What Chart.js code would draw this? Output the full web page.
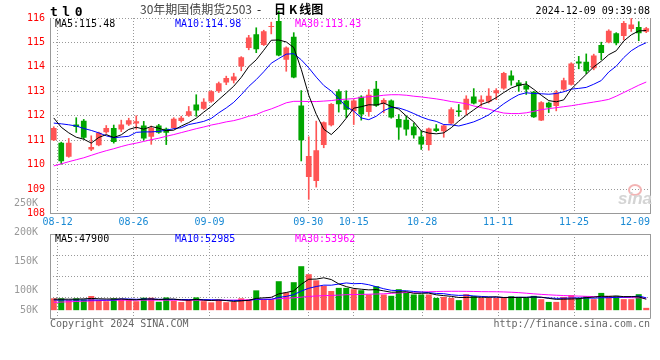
<!DOCTYPE html>
<html>
<head>
<meta charset="utf-8">
<script src="https://cdn.jsdelivr.net/npm/chart.js@4.4.1/dist/chart.umd.min.js"></script>
<style>
html, body { margin: 0; padding: 0; background: #fff; overflow: hidden; }
#wrap { position: relative; width: 660px; height: 360px; font-family: 'DejaVu Sans Mono', monospace; font-size: 10px; }
#wrap canvas { position: absolute; left: 0; top: 0; }
.t { position: absolute; white-space: pre; line-height: 12px; }
.cjk { font-family: 'Noto Sans CJK SC', sans-serif; font-size: 12px; line-height: 14px; top: 2px; }
</style>
</head>
<body>
<div id="wrap">
  <canvas id="price" width="660" height="360"></canvas>
  <canvas id="vol" width="660" height="360"></canvas>

  <div class="t" style="left:50px;top:4px;font-size:13px;line-height:15px;font-weight:bold;letter-spacing:4.5px;">tl0</div>
  <div class="t cjk" style="left:140px;color:#444;">30年期国债期货2503</div>
  <div class="t cjk" style="left:257px;color:#000;">-</div>
  <div class="t cjk" style="left:274px;color:#000;font-weight:bold;">日<span style="margin:0 2px 0 3px">K</span>线图</div>
  <div class="t" style="right:10px;top:5px;color:#000;">2024-12-09 09:39:08</div>

  <div class="t" style="left:55px;top:18px;color:#000;">MA5:115.48</div>
  <div class="t" style="left:175px;top:18px;color:#0000ff;">MA10:114.98</div>
  <div class="t" style="left:295px;top:18px;color:#ff00ff;">MA30:113.43</div>

  <div class="t" style="left:55px;top:233px;color:#000;">MA5:47900</div>
  <div class="t" style="left:175px;top:233px;color:#0000ff;">MA10:52985</div>
  <div class="t" style="left:295px;top:233px;color:#ff00ff;">MA30:53962</div>

  <div class="t" style="left:50px;top:318px;color:#666;">Copyright 2024 SINA.COM</div>
  <div class="t" style="right:10px;top:318px;color:#666;">http://finance.sina.com.cn</div>

  <div style="position:absolute;left:628px;top:184px;width:10px;height:8px;border:2px solid #f3b4b4;border-radius:50%;"></div>
  <div class="t" style="left:618px;top:190px;font-family:'Liberation Sans',sans-serif;font-size:17px;line-height:18px;font-weight:bold;font-style:italic;color:#d4d4d4;">sina</div>
</div>

<script>
// trading days shown (first one is 08-09, partly hidden behind the axis)
const CATS = [
  '08-09','08-12','08-13','08-14','08-15','08-16','08-19','08-20','08-21','08-22',
  '08-23','08-26','08-27','08-28','08-29','08-30','09-02','09-03','09-04','09-05',
  '09-06','09-09','09-10','09-11','09-12','09-13','09-18','09-19','09-20','09-23',
  '09-24','09-25','09-26','09-27','09-30','10-08','10-09','10-10','10-11','10-14',
  '10-15','10-16','10-17','10-18','10-21','10-22','10-23','10-24','10-25','10-28',
  '10-29','10-30','10-31','11-01','11-04','11-05','11-06','11-07','11-08','11-11',
  '11-12','11-13','11-14','11-15','11-18','11-19','11-20','11-21','11-22','11-25',
  '11-26','11-27','11-28','11-29','12-02','12-03','12-04','12-05','12-06','12-09'
];
const DATE_TICKS = ['08-12','08-26','09-09','09-30','10-15','10-28','11-11','11-25','12-09'];

const OPEN = [
  111.00,110.90,110.32,111.64,111.80,110.62,110.79,111.32,111.50,111.44,
  111.64,111.68,111.60,111.14,111.60,111.47,111.50,111.79,112.00,112.46,
  112.29,112.58,113.00,113.36,113.44,114.02,114.77,115.33,114.90,115.63,
  115.88,114.29,115.23,112.42,109.49,109.33,110.80,111.61,113.00,112.62,
  112.18,112.78,112.15,113.10,112.49,112.62,111.87,111.84,111.56,111.15,
  110.80,111.48,111.37,111.68,112.21,112.25,112.79,112.56,112.57,112.92,
  113.11,113.65,113.36,113.25,112.98,111.81,112.53,112.40,113.07,113.27,
  114.22,114.21,113.94,114.90,115.00,115.38,115.26,115.55,115.63,115.44
];
const HIGH = [
  111.55,110.92,111.07,111.92,111.85,111.18,111.33,111.60,111.62,111.82,
  111.90,112.00,111.77,111.58,111.65,111.50,111.92,111.98,112.38,112.86,
  112.70,113.03,113.38,113.62,113.74,114.42,115.29,115.60,115.50,115.83,
  116.28,114.82,115.40,113.03,111.14,111.78,111.75,112.50,113.07,113.02,
  112.66,112.82,113.07,113.41,112.70,112.65,112.05,111.99,111.70,111.38,
  111.50,111.64,111.62,112.33,112.46,112.82,113.11,112.82,113.11,113.11,
  113.78,113.84,113.45,113.40,113.00,112.58,112.56,113.03,113.54,114.17,
  114.43,114.53,114.52,115.01,115.52,115.40,115.86,115.98,115.85,115.62
];
const LOW = [
  110.98,110.02,110.30,111.32,111.05,110.57,110.77,111.28,110.88,111.35,
  111.60,111.45,111.00,110.83,111.28,110.82,111.48,111.74,111.97,111.98,
  112.26,112.55,112.95,113.27,113.34,113.84,114.70,114.58,114.87,115.35,
  114.45,113.82,113.55,110.15,108.58,109.08,110.69,111.58,112.15,111.92,
  111.64,111.82,111.98,112.38,112.12,111.90,111.03,111.20,111.08,110.62,
  110.59,111.35,111.12,111.66,111.98,112.04,112.48,112.39,112.52,112.66,
  113.08,113.25,113.00,112.87,111.93,111.80,112.13,112.20,113.04,113.25,
  113.92,113.72,113.88,114.29,114.98,114.90,115.10,115.45,115.07,115.40
];
const CLOSE = [
  111.50,110.14,110.90,111.54,111.10,110.72,111.30,111.50,110.93,111.64,
  111.82,111.78,111.07,111.50,111.30,111.30,111.88,111.92,112.18,112.21,
  112.57,113.00,113.33,113.54,113.61,114.39,115.20,114.72,115.46,115.67,
  114.47,114.79,113.57,111.00,110.35,110.59,111.73,112.48,112.47,112.25,
  112.62,112.05,112.86,112.41,112.64,111.93,111.52,111.44,111.20,110.82,
  111.48,111.38,111.60,112.27,112.15,112.70,112.50,112.66,112.82,113.04,
  113.75,113.44,113.22,113.07,111.94,112.55,112.34,112.95,113.45,114.14,
  114.14,113.82,114.47,114.57,115.48,114.97,115.80,115.73,115.38,115.58
];

const MA5 = [
  111.91,111.53,111.30,111.12,111.04,110.88,111.11,111.23,111.11,111.22,
  111.44,111.53,111.45,111.56,111.49,111.39,111.41,111.58,111.72,111.90,
  112.15,112.38,112.66,112.93,113.21,113.57,114.01,114.29,114.68,115.09,
  115.10,115.02,114.79,113.90,112.84,112.06,111.45,111.23,111.52,111.90,
  112.31,112.37,112.45,112.44,112.52,112.38,112.27,111.99,111.75,111.38,
  111.29,111.26,111.30,111.51,111.78,112.02,112.24,112.46,112.57,112.74,
  112.95,113.14,113.25,113.30,113.08,112.84,112.62,112.57,112.65,113.09,
  113.40,113.70,114.00,114.23,114.50,114.66,115.06,115.31,115.47,115.49
];
const MA10 = [
  111.70,111.67,111.63,111.58,111.48,111.40,111.30,111.18,111.10,111.13,
  111.16,111.32,111.34,111.34,111.36,111.41,111.47,111.51,111.64,111.70,
  111.77,111.89,112.12,112.32,112.55,112.86,113.20,113.48,113.80,114.15,
  114.34,114.52,114.54,114.29,113.96,113.58,113.24,113.01,112.71,112.37,
  112.19,111.91,111.84,111.98,112.21,112.34,112.32,112.22,112.09,111.95,
  111.84,111.77,111.64,111.63,111.58,111.66,111.75,111.88,112.04,112.26,
  112.49,112.69,112.86,112.94,112.91,112.90,112.88,112.91,112.98,113.09,
  113.12,113.16,113.29,113.44,113.79,114.03,114.38,114.66,114.85,114.99
];
const MA30 = [
  109.95,110.03,110.12,110.20,110.28,110.38,110.48,110.57,110.65,110.74,
  110.82,110.88,110.95,111.02,111.08,111.16,111.23,111.31,111.39,111.47,
  111.54,111.62,111.68,111.75,111.80,111.88,111.98,112.05,112.18,112.28,
  112.40,112.53,112.59,112.59,112.58,112.58,112.60,112.62,112.66,112.68,
  112.70,112.75,112.78,112.80,112.84,112.86,112.86,112.84,112.80,112.77,
  112.73,112.69,112.64,112.58,112.54,112.49,112.40,112.33,112.27,112.18,
  112.11,112.09,112.09,112.12,112.18,112.25,112.29,112.33,112.37,112.41,
  112.46,112.51,112.56,112.61,112.67,112.80,112.95,113.10,113.25,113.38
];

// volume panel, in K as read against its axis labels
const VOLUME_K = [
  86,86,83,86,84,90,83,81,86,84.5,
  84.5,81,87,87,80,87.5,82,79.5,84,87.6,
  81,79,83.6,79.3,80,86,84,99.7,84.5,84.5,
  115.5,96,113.8,141.4,127.6,117,107.4,98.6,104,104,
  101.7,100,92.6,106.9,92.6,90.3,101.7,95.7,92.6,92.6,
  92.6,86.7,88.4,86.7,82.8,93.1,89.7,86.7,86.7,86.7,
  86.7,89.7,88.4,86.7,90.2,84.5,79.8,79.8,88.4,91.4,
  86.7,89.7,84.5,95.3,90.2,90.2,84.5,84.5,93.1,69.5
];
const VMA5 = [
  84.5,84.5,84.5,84.5,85.0,85.8,85.2,84.8,84.8,84.9,
  83.8,83.4,84.6,84.8,83.9,84.5,84.7,83.2,82.6,84.1,
  82.8,82.2,83.0,82.1,80.6,81.6,82.6,85.8,86.8,87.7,
  93.6,96.0,98.9,110.2,118.9,119.2,121.4,118.4,110.9,106.2,
  103.1,101.7,100.5,101.0,98.8,96.5,96.8,97.4,94.6,94.6,
  95.0,92.0,90.6,89.4,87.4,87.5,88.1,87.8,87.8,88.6,
  87.3,87.3,87.6,87.6,88.3,87.9,85.9,84.2,84.5,84.8,
  85.2,87.2,88.1,89.5,89.3,90.0,88.9,88.9,88.5,84.4
];
const VMA10 = [
  83,83,83,83,83,83,83,83,83,85.0,
  84.8,84.3,84.7,84.8,84.4,84.2,84.1,83.9,83.7,84.0,
  83.7,83.5,83.1,82.4,82.4,82.2,82.4,84.4,84.5,84.2,
  87.6,89.3,92.3,98.5,103.3,106.4,108.7,108.6,110.6,112.5,
  111.2,111.6,109.4,106.0,102.5,99.8,99.2,99.0,97.8,96.7,
  95.8,94.4,94.0,92.0,91.0,91.3,90.1,89.2,88.6,88.0,
  87.4,87.7,87.7,87.7,88.5,87.6,86.6,85.9,86.1,86.6,
  86.6,86.6,86.2,87.0,87.0,87.6,88.1,88.5,90.0,86.8
];
const VMA30 = [
  79.0,79.5,80.0,80.5,81.0,81.5,82.0,82.4,82.7,82.8,
  82.8,82.8,82.8,82.8,82.8,82.8,82.8,82.8,82.8,82.8,
  82.8,82.8,82.8,82.8,82.8,83.0,83.3,83.8,84.0,84.4,
  85.3,86.0,86.8,88.0,89.2,90.0,90.6,91.0,91.5,92.2,
  92.5,92.8,93.0,93.4,93.8,94.5,95.3,96.0,96.5,96.9,
  97.3,97.7,98.0,98.1,98.1,98.0,97.8,97.5,97.4,97.3,
  97.0,96.5,95.8,94.8,93.7,92.8,92.0,91.3,90.8,90.2,
  89.8,89.4,89.0,88.6,88.2,87.9,87.5,87.1,86.8,86.4
];
const VOL_TICKS_K = [50, 100, 150, 200, 250];
const VOL_MIN_K = 52, VOL_MAX_K = 197, VOL_BASE_K = 65.5;

const RED = '#ff5555', GREEN = '#00a600';
const MONO = "'DejaVu Sans Mono', monospace";
const GRID = '#999';
const upColor = i => (CLOSE[i] >= OPEN[i] ? RED : GREEN);

// solid frame on chosen sides of the plot area
const framePlugin = {
  id: 'frame',
  afterDraw(chart, args, opts) {
    const { ctx, chartArea: a } = chart;
    const l = Math.floor(a.left) + 0.5, r = Math.floor(a.right) + 0.5;
    const t = Math.floor(a.top) + 0.5, b = Math.floor(a.bottom) + 0.5;
    const s = opts.sides || '';
    ctx.save();
    ctx.strokeStyle = GRID;
    ctx.lineWidth = 1;
    ctx.beginPath();
    if (s.includes('t')) { ctx.moveTo(l, t); ctx.lineTo(r, t); }
    if (s.includes('b')) { ctx.moveTo(l, b); ctx.lineTo(r, b); }
    if (s.includes('l')) { ctx.moveTo(l, t); ctx.lineTo(l, b); }
    if (s.includes('r')) { ctx.moveTo(r, t); ctx.lineTo(r, b); }
    ctx.stroke();
    ctx.restore();
  }
};

const dateTicks = s => { s.ticks = DATE_TICKS.map(d => ({ value: CATS.indexOf(d) })); };

const maLine = (data, color, axis) => ({
  type: 'line', data: data, borderColor: color, borderWidth: 1,
  pointRadius: 0, tension: 0, yAxisID: axis, order: 0
});

// date grid: its own linear axis, no bar-chart offset
const dateAxis = (showLabels, height) => ({
  type: 'linear', position: 'bottom', min: 0, max: CATS.length - 1, offset: false,
  afterBuildTicks: dateTicks,
  afterFit: s => { s.height = height; s.paddingLeft = 0; s.paddingRight = 0; },
  grid: { color: GRID, drawTicks: false, offset: false },
  border: { display: false, dash: [1, 2] },
  ticks: {
    display: showLabels, autoSkip: false, maxRotation: 0, minRotation: 0, padding: 3,
    color: '#1a8ad4', font: { family: MONO, size: 10 },
    // last label sits flush against the right edge
    callback: v => (v === CATS.length - 1 ? CATS[v] + '     ' : CATS[v])
  }
});

// price panel
new Chart(document.getElementById('price'), {
  type: 'bar',
  data: {
    labels: CATS,
    datasets: [
      maLine(MA5, '#000000', 'y'),
      maLine(MA10, '#0000ff', 'y'),
      maLine(MA30, '#ff00ff', 'y'),
      {
        data: CATS.map((_, i) => [OPEN[i], CLOSE[i]]),
        backgroundColor: c => upColor(c.dataIndex),
        barPercentage: 0.76, categoryPercentage: 1,
        grouped: false, minBarLength: 1, borderWidth: 0, order: 1
      },
      {
        data: CATS.map((_, i) => [LOW[i], HIGH[i]]),
        backgroundColor: c => upColor(c.dataIndex),
        barThickness: 1, grouped: false, clip: false, borderWidth: 0, order: 2
      }
    ]
  },
  options: {
    responsive: false, animation: false, events: [],
    layout: { padding: { top: 18, right: 10, bottom: 130.5, left: 0 } },
    plugins: { legend: { display: false }, tooltip: { enabled: false }, frame: { sides: 'lrb' } },
    scales: {
      x: { type: 'category', display: false, offset: true },
      xg: dateAxis(true, 16),
      y: {
        min: 108, max: 116,
        afterFit: s => { s.width = 50; },
        grid: { color: GRID, drawTicks: false },
        border: { display: false, dash: [1, 2] },
        ticks: { stepSize: 1, padding: 5, color: '#ff0000', font: { family: MONO, size: 10 } }
      }
    }
  },
  plugins: [framePlugin]
});

// volume panel
new Chart(document.getElementById('vol'), {
  type: 'bar',
  data: {
    labels: CATS,
    datasets: [
      maLine(VMA5, '#000000', 'v'),
      maLine(VMA10, '#0000ff', 'v'),
      maLine(VMA30, '#ff00ff', 'v'),
      {
        data: VOLUME_K, base: VOL_BASE_K, yAxisID: 'v',
        backgroundColor: c => upColor(c.dataIndex),
        barPercentage: 0.8, categoryPercentage: 1, borderWidth: 0, order: 1
      }
    ]
  },
  options: {
    responsive: false, animation: false, events: [],
    layout: { padding: { top: 234, right: 10, bottom: 42, left: 0 } },
    plugins: { legend: { display: false }, tooltip: { enabled: false }, frame: { sides: 'tblr' } },
    scales: {
      x: { type: 'category', display: false, offset: true },
      xg: dateAxis(false, 0),
      v: {
        type: 'linear', position: 'left', min: VOL_MIN_K, max: VOL_MAX_K,
        afterBuildTicks: s => { s.ticks = VOL_TICKS_K.map(v => ({ value: v })); },
        afterFit: s => { s.width = 50; },
        grid: { display: false },
        border: { display: false },
        ticks: {
          autoSkip: false, padding: 4, color: '#999',
          font: c => ({ family: MONO, size: 10, lineHeight: (c.tick && c.tick.value === VOL_TICKS_K[0]) ? 1.8 : 1.2 }),
          callback: (v, i) => (i === 0 ? [v + 'K', ''] : v + 'K')
        }
      },
      yg: {
        type: 'linear', position: 'right', min: 0, max: 4,
        afterFit: s => { s.width = 0; },
        grid: { color: GRID, drawTicks: false },
        border: { display: false, dash: [1, 2] },
        ticks: { display: false, stepSize: 1 }
      }
    }
  },
  plugins: [framePlugin]
});
</script>
</body>
</html>
